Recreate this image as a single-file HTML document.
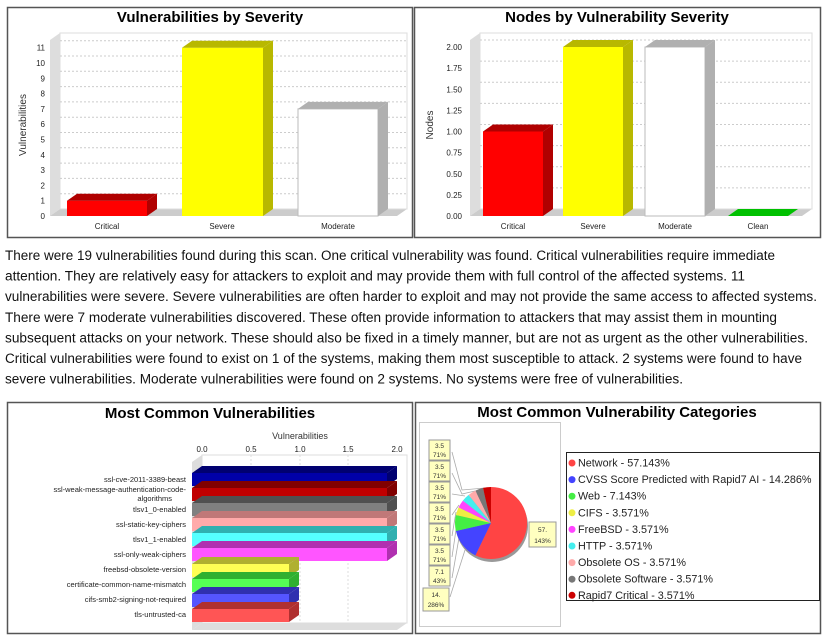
<!DOCTYPE html>
<html><head><meta charset="utf-8"><style>
body{margin:0;background:#fff;width:829px;height:639px;overflow:hidden;position:relative;font-family:"Liberation Sans",Arial,sans-serif}
svg{position:absolute;left:0;top:0}
</style></head><body>
<svg width="829" height="639" font-family="Liberation Sans, Arial, sans-serif">
<!-- panels -->
<rect x="7.5" y="7.5" width="405" height="230" fill="#fff" stroke="#555" stroke-width="1.5"/>
<rect x="414.5" y="7.5" width="406" height="230" fill="#fff" stroke="#555" stroke-width="1.5"/>
<rect x="7.5" y="402.5" width="405" height="231" fill="#fff" stroke="#555" stroke-width="1.5"/>
<rect x="415.5" y="402.5" width="405" height="231" fill="#fff" stroke="#555" stroke-width="1.5"/>

<!-- paragraph -->
<g font-size="13.5" fill="#111" lengthAdjust="spacingAndGlyphs">
<text x="5" y="260" textLength="770" lengthAdjust="spacingAndGlyphs">There were 19 vulnerabilities found during this scan. One critical vulnerability was found. Critical vulnerabilities require immediate</text>
<text x="5" y="280.6" textLength="740" lengthAdjust="spacingAndGlyphs">attention. They are relatively easy for attackers to exploit and may provide them with full control of the affected systems. 11</text>
<text x="5" y="301.2" textLength="812" lengthAdjust="spacingAndGlyphs">vulnerabilities were severe. Severe vulnerabilities are often harder to exploit and may not provide the same access to affected systems.</text>
<text x="5" y="321.8" textLength="772" lengthAdjust="spacingAndGlyphs">There were 7 moderate vulnerabilities discovered. These often provide information to attackers that may assist them in mounting</text>
<text x="5" y="342.4" textLength="803" lengthAdjust="spacingAndGlyphs">subsequent attacks on your network. These should also be fixed in a timely manner, but are not as urgent as the other vulnerabilities.</text>
<text x="5" y="363" textLength="797" lengthAdjust="spacingAndGlyphs">Critical vulnerabilities were found to exist on 1 of the systems, making them most susceptible to attack. 2 systems were found to have</text>
<text x="5" y="383.6" textLength="678" lengthAdjust="spacingAndGlyphs">severe vulnerabilities. Moderate vulnerabilities were found on 2 systems. No systems were free of vulnerabilities.</text>
</g>

<!-- TL chart -->
<text x="210" y="22" font-size="15" font-weight="bold" text-anchor="middle">Vulnerabilities by Severity</text>
<polygon points="50,40 60,33 60,209 50,216" fill="#ddd"/>
<polygon points="50,216 60,209 407,209 397,216" fill="#ccc"/>
<rect x="60" y="33" width="347" height="176" fill="#fff" stroke="#ddd"/>
<g stroke="#ccc" stroke-dasharray="2,2">
<line x1="60" y1="193.7" x2="407" y2="193.7"/><line x1="60" y1="178.4" x2="407" y2="178.4"/><line x1="60" y1="163.1" x2="407" y2="163.1"/><line x1="60" y1="147.8" x2="407" y2="147.8"/><line x1="60" y1="132.5" x2="407" y2="132.5"/><line x1="60" y1="117.2" x2="407" y2="117.2"/><line x1="60" y1="101.9" x2="407" y2="101.9"/><line x1="60" y1="86.6" x2="407" y2="86.6"/><line x1="60" y1="71.3" x2="407" y2="71.3"/><line x1="60" y1="56" x2="407" y2="56"/><line x1="60" y1="40.7" x2="407" y2="40.7"/></g>
<g font-size="8" text-anchor="end" fill="#222">
<text x="45" y="219">0</text><text x="45" y="203.7">1</text><text x="45" y="188.4">2</text><text x="45" y="173.1">3</text><text x="45" y="157.8">4</text><text x="45" y="142.5">5</text><text x="45" y="127.2">6</text><text x="45" y="111.9">7</text><text x="45" y="96.6">8</text><text x="45" y="81.3">9</text><text x="45" y="66">10</text><text x="45" y="50.7">11</text></g>
<text transform="translate(26,125) rotate(-90)" font-size="10" text-anchor="middle" fill="#333">Vulnerabilities</text>
<rect x="67" y="200.7" width="80" height="15.3" fill="#f00"/><polygon points="67,200.7 77,193.7 157,193.7 147,200.7" fill="#b00000"/><polygon points="147,200.7 157,193.7 157,209 147,216" fill="#b00000"/>
<rect x="182" y="47.7" width="81" height="168.3" fill="#ff0"/><polygon points="182,47.7 192,40.7 273,40.7 263,47.7" fill="#b8b800"/><polygon points="263,47.7 273,40.7 273,209 263,216" fill="#b8b800"/>
<rect x="298" y="108.9" width="80" height="107.1" fill="#fff" stroke="#bbb"/><polygon points="298,108.9 308,101.9 388,101.9 378,108.9" fill="#b0b0b0"/><polygon points="378,108.9 388,101.9 388,209 378,216" fill="#b0b0b0"/>
<g font-size="8" text-anchor="middle" fill="#222"><text x="107" y="229">Critical</text><text x="222" y="229">Severe</text><text x="338" y="229">Moderate</text></g>

<!-- TR chart -->
<text x="617" y="22" font-size="15" font-weight="bold" text-anchor="middle">Nodes by Vulnerability Severity</text>
<polygon points="470,40 480,33 480,209 470,216" fill="#ddd"/>
<polygon points="470,216 480,209 812,209 802,216" fill="#ccc"/>
<rect x="480" y="33" width="332" height="176" fill="#fff" stroke="#ddd"/>
<g stroke="#ccc" stroke-dasharray="2,2">
<line x1="480" y1="187.9" x2="812" y2="187.9"/><line x1="480" y1="166.8" x2="812" y2="166.8"/><line x1="480" y1="145.6" x2="812" y2="145.6"/><line x1="480" y1="124.5" x2="812" y2="124.5"/><line x1="480" y1="103.4" x2="812" y2="103.4"/><line x1="480" y1="82.3" x2="812" y2="82.3"/><line x1="480" y1="61.1" x2="812" y2="61.1"/><line x1="480" y1="40" x2="812" y2="40"/></g>
<g font-size="8" text-anchor="end" fill="#222">
<text x="462" y="219">0.00</text><text x="462" y="197.9">0.25</text><text x="462" y="176.8">0.50</text><text x="462" y="155.6">0.75</text><text x="462" y="134.5">1.00</text><text x="462" y="113.4">1.25</text><text x="462" y="92.3">1.50</text><text x="462" y="71.1">1.75</text><text x="462" y="50">2.00</text></g>
<text transform="translate(433,125) rotate(-90)" font-size="10" text-anchor="middle" fill="#333">Nodes</text>
<rect x="483" y="131.5" width="60" height="84.5" fill="#f00"/><polygon points="483,131.5 493,124.5 553,124.5 543,131.5" fill="#b00000"/><polygon points="543,131.5 553,124.5 553,209 543,216" fill="#b00000"/>
<rect x="563" y="47" width="60" height="169" fill="#ff0"/><polygon points="563,47 573,40 633,40 623,47" fill="#b8b800"/><polygon points="623,47 633,40 633,209 623,216" fill="#b8b800"/>
<rect x="645" y="47" width="60" height="169" fill="#fff" stroke="#bbb"/><polygon points="645,47 655,40 715,40 705,47" fill="#b0b0b0"/><polygon points="705,47 715,40 715,209 705,216" fill="#b0b0b0"/>
<polygon points="728,216 738,209 798,209 788,216" fill="#00c000"/>
<g font-size="8" text-anchor="middle" fill="#222"><text x="513" y="229">Critical</text><text x="593" y="229">Severe</text><text x="675" y="229">Moderate</text><text x="758" y="229">Clean</text></g>

<!-- BL chart -->
<text x="210" y="418" font-size="15" font-weight="bold" text-anchor="middle">Most Common Vulnerabilities</text>
<text x="300" y="439" font-size="9" text-anchor="middle" fill="#333">Vulnerabilities</text>
<g font-size="8" text-anchor="middle" fill="#222"><text x="202" y="452">0.0</text><text x="251" y="452">0.5</text><text x="300" y="452">1.0</text><text x="348" y="452">1.5</text><text x="397" y="452">2.0</text></g>
<polygon points="192,462 202,455 202,623 192,630" fill="#ddd"/>
<polygon points="192,630 202,623 407,623 397,630" fill="#ddd"/>
<rect x="202" y="455" width="205" height="168" fill="#fff" stroke="#ddd"/>
<g stroke="#ddd" stroke-dasharray="2,2"><line x1="251" y1="455" x2="251" y2="623"/><line x1="300" y1="455" x2="300" y2="623"/><line x1="348" y1="455" x2="348" y2="623"/></g>
<g>
<polygon points="192,473 202,466 397,466 387,473" fill="#000070"/><rect x="192" y="473" width="195" height="13" fill="#0000a8"/><polygon points="387,473 397,466 397,479 387,486" fill="#000070"/>
<polygon points="192,488 202,481 397,481 387,488" fill="#800000"/><rect x="192" y="488" width="195" height="13" fill="#c00000"/><polygon points="387,488 397,481 397,494 387,501" fill="#800000"/>
<polygon points="192,503 202,496 397,496 387,503" fill="#505050"/><rect x="192" y="503" width="195" height="13" fill="#808080"/><polygon points="387,503 397,496 397,509 387,516" fill="#505050"/>
<polygon points="192,518 202,511 397,511 387,518" fill="#c07878"/><rect x="192" y="518" width="195" height="13" fill="#ffaaaa"/><polygon points="387,518 397,511 397,524 387,531" fill="#c07878"/>
<polygon points="192,533 202,526 397,526 387,533" fill="#30b0b0"/><rect x="192" y="533" width="195" height="13" fill="#55ffff"/><polygon points="387,533 397,526 397,539 387,546" fill="#30b0b0"/>
<polygon points="192,548 202,541 397,541 387,548" fill="#b030b0"/><rect x="192" y="548" width="195" height="13" fill="#ff55ff"/><polygon points="387,548 397,541 397,554 387,561" fill="#b030b0"/>
<polygon points="192,564 202,557 299,557 289,564" fill="#b0b030"/><rect x="192" y="564" width="97" height="13" fill="#ffff55"/><polygon points="289,564 299,557 299,570 289,577" fill="#b0b030"/>
<polygon points="192,579 202,572 299,572 289,579" fill="#30b030"/><rect x="192" y="579" width="97" height="13" fill="#55ff55"/><polygon points="289,579 299,572 299,585 289,592" fill="#30b030"/>
<polygon points="192,594 202,587 299,587 289,594" fill="#3030b0"/><rect x="192" y="594" width="97" height="13" fill="#5555ff"/><polygon points="289,594 299,587 299,600 289,607" fill="#3030b0"/>
<polygon points="192,609 202,602 299,602 289,609" fill="#b03030"/><rect x="192" y="609" width="97" height="13" fill="#ff5555"/><polygon points="289,609 299,602 299,615 289,622" fill="#b03030"/>
</g>
<g font-size="7.5" text-anchor="end" fill="#222">
<text x="186" y="482">ssl-cve-2011-3389-beast</text>
<text x="186" y="492">ssl-weak-message-authentication-code-</text>
<text x="172" y="501">algorithms</text>
<text x="186" y="512">tlsv1_0-enabled</text>
<text x="186" y="527">ssl-static-key-ciphers</text>
<text x="186" y="542">tlsv1_1-enabled</text>
<text x="186" y="557">ssl-only-weak-ciphers</text>
<text x="186" y="572">freebsd-obsolete-version</text>
<text x="186" y="587">certificate-common-name-mismatch</text>
<text x="186" y="602">cifs-smb2-signing-not-required</text>
<text x="186" y="617">tls-untrusted-ca</text></g>

<!-- BR chart -->
<text x="617" y="417" font-size="15" font-weight="bold" text-anchor="middle">Most Common Vulnerability Categories</text>
<rect x="419.5" y="422.5" width="141" height="204" fill="#fff" stroke="#ccc"/>
<g stroke="#aaa" fill="none" stroke-width="0.8">
<polyline points="452,452 462,490 485,488"/><polyline points="452,473 462,494 475,491"/><polyline points="452,494 465,496"/><polyline points="452,515 459,505"/><polyline points="452,536 456,512"/><polyline points="452,557 457,523"/><polyline points="452,578 460,532"/><polyline points="450,597 465,550"/><polyline points="527,533 521,523"/></g>
<ellipse cx="492" cy="526" rx="36" ry="36" fill="#999"/>
<path d="M491,523 L491,487 A36,36 0 1,1 475.4,555.4Z" fill="#f44"/>
<path d="M491,523 L475.4,555.4 A36,36 0 0,1 455.9,531Z" fill="#44f"/>
<path d="M491,523 L455.9,531 A36,36 0 0,1 455.9,515Z" fill="#4e4"/>
<path d="M491,523 L455.9,515 A36,36 0 0,1 458.6,507.4Z" fill="#ee4"/>
<path d="M491,523 L458.6,507.4 A36,36 0 0,1 462.9,500.6Z" fill="#f4f"/>
<path d="M491,523 L462.9,500.6 A36,36 0 0,1 468.6,494.9Z" fill="#4ee"/>
<path d="M491,523 L468.6,494.9 A36,36 0 0,1 475.4,490.6Z" fill="#faa"/>
<path d="M491,523 L475.4,490.6 A36,36 0 0,1 483,487.9Z" fill="#777"/>
<path d="M491,523 L483,487.9 A36,36 0 0,1 491,487Z" fill="#c00"/>
<g font-size="6.5" text-anchor="middle" fill="#333">
<rect x="429" y="440" width="21" height="20" fill="#ffffc0" stroke="#999"/><text x="439.5" y="448">3.5</text><text x="439.5" y="457">71%</text>
<rect x="429" y="461" width="21" height="20" fill="#ffffc0" stroke="#999"/><text x="439.5" y="469">3.5</text><text x="439.5" y="478">71%</text>
<rect x="429" y="482" width="21" height="20" fill="#ffffc0" stroke="#999"/><text x="439.5" y="490">3.5</text><text x="439.5" y="499">71%</text>
<rect x="429" y="503" width="21" height="20" fill="#ffffc0" stroke="#999"/><text x="439.5" y="511">3.5</text><text x="439.5" y="520">71%</text>
<rect x="429" y="524" width="21" height="20" fill="#ffffc0" stroke="#999"/><text x="439.5" y="532">3.5</text><text x="439.5" y="541">71%</text>
<rect x="429" y="545" width="21" height="20" fill="#ffffc0" stroke="#999"/><text x="439.5" y="553">3.5</text><text x="439.5" y="562">71%</text>
<rect x="429" y="566" width="21" height="20" fill="#ffffc0" stroke="#999"/><text x="439.5" y="574">7.1</text><text x="439.5" y="583">43%</text>
<rect x="423" y="588" width="26" height="23" fill="#ffffc0" stroke="#999"/><text x="436" y="597">14.</text><text x="436" y="607">286%</text>
<rect x="529" y="522" width="27" height="25" fill="#ffffc0" stroke="#999"/><text x="542.5" y="532">57.</text><text x="542.5" y="543">143%</text></g>
<rect x="566.5" y="452.5" width="253" height="148" fill="#fff" stroke="#222"/>
<g font-size="10.8" fill="#222">
<circle cx="572" cy="463" r="3.5" fill="#f44"/><text x="578" y="466.5">Network - 57.143%</text>
<circle cx="572" cy="479.6" r="3.5" fill="#44f"/><text x="578" y="483.1">CVSS Score Predicted with Rapid7 AI - 14.286%</text>
<circle cx="572" cy="496.2" r="3.5" fill="#4e4"/><text x="578" y="499.7">Web - 7.143%</text>
<circle cx="572" cy="512.8" r="3.5" fill="#ee4"/><text x="578" y="516.3">CIFS - 3.571%</text>
<circle cx="572" cy="529.4" r="3.5" fill="#f4f"/><text x="578" y="532.9">FreeBSD - 3.571%</text>
<circle cx="572" cy="546" r="3.5" fill="#4ee"/><text x="578" y="549.5">HTTP - 3.571%</text>
<circle cx="572" cy="562.6" r="3.5" fill="#faa"/><text x="578" y="566.1">Obsolete OS - 3.571%</text>
<circle cx="572" cy="579.2" r="3.5" fill="#777"/><text x="578" y="582.7">Obsolete Software - 3.571%</text>
<circle cx="572" cy="595.3" r="3.5" fill="#c00"/><text x="578" y="598.8">Rapid7 Critical - 3.571%</text></g>
</svg>
</body></html>
